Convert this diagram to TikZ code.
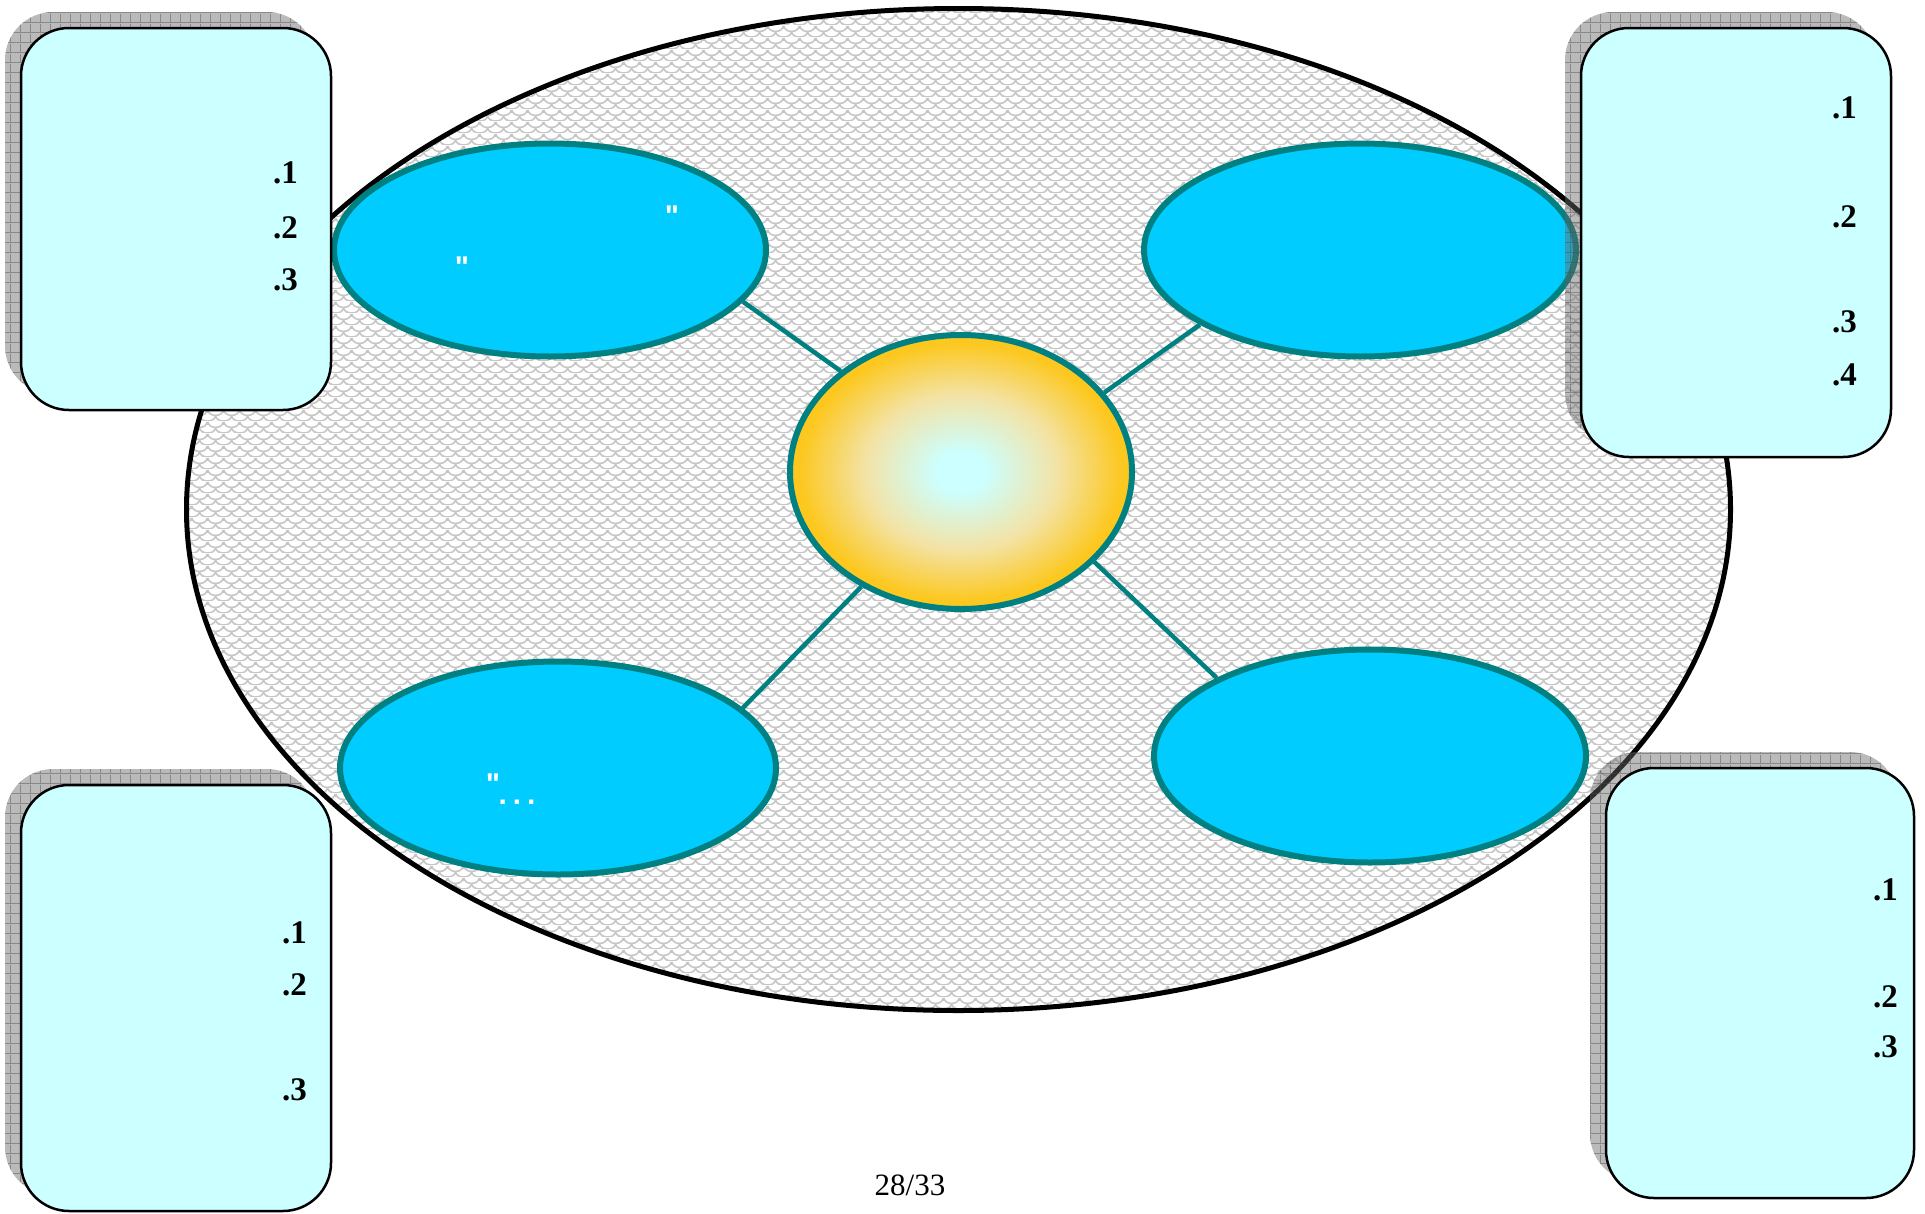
\documentclass[tikz,border=0pt]{standalone}
\usepackage{fontspec}
\setmainfont{Liberation Serif}
\newfontfamily\quotefont{Liberation Sans}
\usetikzlibrary{shapes.geometric,shadows,patterns.meta}

\definecolor{bubblefill}{HTML}{00CCFF}
\definecolor{rim}{HTML}{008080}
\definecolor{notefill}{HTML}{CCFFFF}
\definecolor{coreIn}{HTML}{CCFFFF}
\definecolor{coreMid}{HTML}{F3E3A6}
\definecolor{coreOut}{HTML}{FCC820}

% glow of the hub
\pgfdeclareradialshading{coreglow}{\pgfpoint{0bp}{0bp}}{%
  color(0bp)=(coreIn); color(3.5bp)=(coreIn); color(14bp)=(coreMid);
  color(23.5bp)=(coreOut); color(50bp)=(coreOut)}

% scale texture of the field
\tikzdeclarepattern{
  name=scales,
  type=colored,
  bounding box={(0,0) and (16pt,12pt)},
  tile size={(16pt,12pt)},
  code={
    \draw[line width=1.7pt, draw=gray!45]
      (0pt,12pt) arc[start angle=180, end angle=360, x radius=8pt, y radius=6pt]
      (0pt,0pt) arc[start angle=270, end angle=360, x radius=8pt, y radius=6pt]
      (8pt,6pt) arc[start angle=180, end angle=270, x radius=8pt, y radius=6pt];
  }
}

% grid of the shadows
\tikzdeclarepattern{
  name=shadegrid,
  type=colored,
  bounding box={(0,0) and (10pt,10pt)},
  tile size={(10pt,10pt)},
  code={
    \draw[line width=0.8pt, draw=black!70]
      (0pt,0.5pt) -- (10pt,0.5pt) (0.5pt,0pt) -- (0.5pt,10pt);
  }
}

\begin{document}
\begin{tikzpicture}[
    x=1pt, y=-1pt,
    field/.style={
        ellipse,
        draw=black,
        line width=5pt,
        preaction={fill=white},
        pattern=scales,
        inner sep=0pt,
        minimum width=1544pt,
        minimum height=1002pt
    },
    bubble/.style={
        ellipse,
        draw=rim,
        line width=6pt,
        fill=bubblefill,
        inner sep=0pt,
        minimum width=432pt,
        minimum height=213pt
    },
    hub/.style={
        ellipse,
        draw=rim,
        line width=6pt,
        shade,
        shading=coreglow,
        inner sep=0pt,
        minimum width=342pt,
        minimum height=274pt
    },
    panel/.style={
        rectangle,
        draw=black,
        line width=2.5pt,
        fill=notefill,
        rounded corners=48pt,
        inner sep=0pt,
        minimum width=310pt,
        general shadow={shadow xshift=-16pt, shadow yshift=16pt, fill=black!60, opacity=.45},
        general shadow={shadow xshift=-16pt, shadow yshift=16pt, pattern=shadegrid, opacity=.45}
    },
    num/.style={anchor=east, inner sep=0pt, font=\fontsize{33}{36}\selectfont\bfseries},
    qmark/.style={inner sep=0pt, text=white, font=\quotefont\fontsize{30}{34}\selectfont\bfseries},
    link/.style={draw=rim, line width=4.5pt}
]
\useasboundingbox (0,0) rectangle (1925,1213);

\node[field] (field) at (958.5,509.5) {};

\node[bubble] (tl) at (550,250) {};
\node[bubble] (tr) at (1360,250) {};
\node[bubble, minimum width=436pt] (bl) at (558,768) {};
\node[bubble] (br) at (1370,756) {};
\node[hub] (core) at (961,472) {};

\draw[link] (tl.-15.4) -- (core.140.6);
\draw[link] (tr.-155.6) -- (core.29.3);
\draw[link] (bl.18.5) -- (core.-131.1);
\draw[link] (br.153.6) -- (core.-34);

% quote marks left in the bubbles
\node[qmark, anchor=north] (q1) at (672,206) {"};
\node[qmark, anchor=north] (q2) at (462,257) {"};
\node[qmark, anchor=north] (q3) at (493,774) {"};
\node[qmark] (dots) at (517,802) {.\kern6pt.\kern6pt.};

% corner panels
\node[panel, minimum height=382pt] (notetl) at (176,219) {};
\node[panel, minimum height=429pt] (notetr) at (1736,242.5) {};
\node[panel, minimum height=426pt] (notebl) at (176,998) {};
\node[panel, minimum width=308pt, minimum height=430pt] (notebr) at (1760,983) {};

\node[num] (tl1) at (298,173) {.1};
\node[num] (tl2) at (298,228) {.2};
\node[num] (tl3) at (298,280) {.3};

\node[num] (tr1) at (1857,108) {.1};
\node[num] (tr2) at (1857,217) {.2};
\node[num] (tr3) at (1857,322) {.3};
\node[num] (tr4) at (1857,375) {.4};

\node[num] (bl1) at (307,933) {.1};
\node[num] (bl2) at (307,985) {.2};
\node[num] (bl3) at (307,1090) {.3};

\node[num] (br1) at (1898,890) {.1};
\node[num] (br2) at (1898,997) {.2};
\node[num] (br3) at (1898,1047) {.3};

\node[font=\fontsize{31}{34}\selectfont] (page) at (910,1185) {28/33};

\end{tikzpicture}
\end{document}
